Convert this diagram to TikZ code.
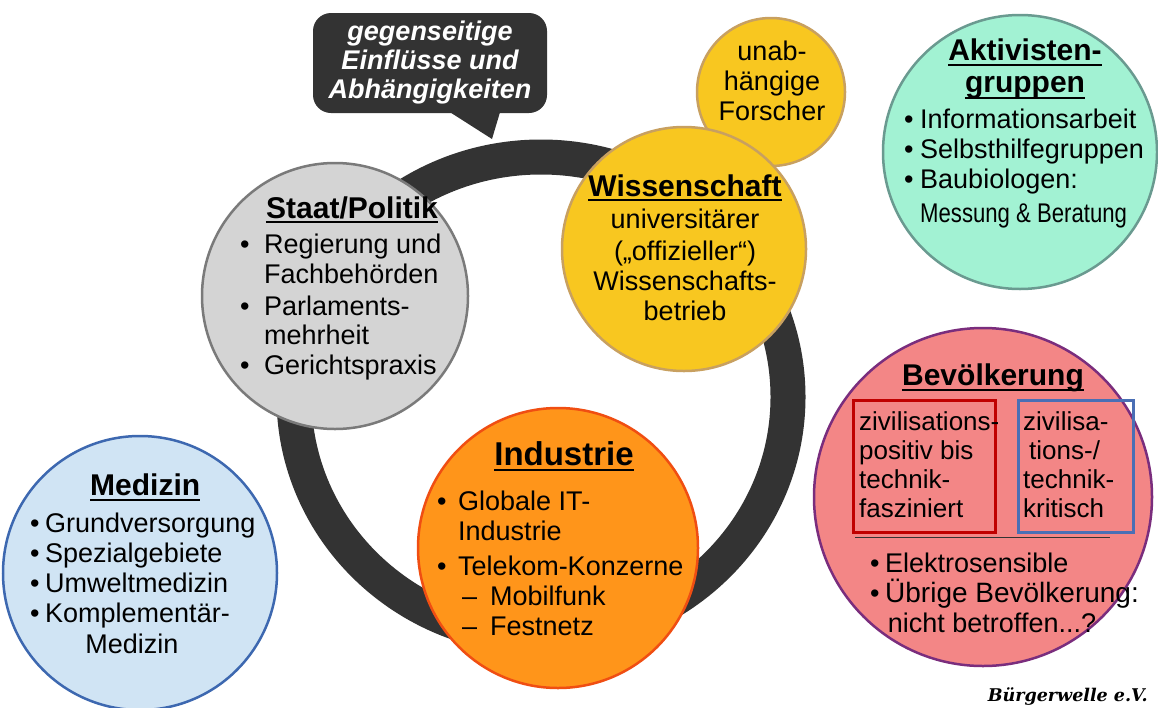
\documentclass[tikz,border=0pt]{standalone}
\usepackage{fontspec}
\setmainfont{Liberation Sans}
\newfontfamily\logofont{DejaVu Serif}
\usepackage{graphicx}
\definecolor{ringgray}{HTML}{333333}
\definecolor{staatfill}{HTML}{D4D4D4}
\definecolor{staatdraw}{HTML}{7A7A7A}
\definecolor{yellowfill}{HTML}{F8C720}
\definecolor{yellowdraw}{HTML}{C8A060}
\definecolor{mintfill}{HTML}{A2F2D3}
\definecolor{mintdraw}{HTML}{6A9A90}
\definecolor{coralfill}{HTML}{F38686}
\definecolor{coraldraw}{HTML}{7A2D7D}
\definecolor{skyfill}{HTML}{D0E4F4}
\definecolor{skydraw}{HTML}{3D68B0}
\definecolor{orangefill}{HTML}{FF951A}
\definecolor{orangedraw}{HTML}{F04E12}
\definecolor{boxred}{HTML}{C00000}
\definecolor{boxblue}{HTML}{4A6FB5}
\begin{document}
\begin{tikzpicture}[x=1pt,y=-1pt,
  blob/.style={circle,inner sep=0,line width=2.5pt},
  body/.style={inner sep=0,anchor=base west,font=\fontsize{27}{30}\selectfont},
  bodyc/.style={body,anchor=base},
  narrow/.style={inner sep=0,anchor=base west,font=\fontsize{26}{30}\selectfont},
  head/.style={inner sep=0,anchor=base,font=\fontsize{30}{34}\selectfont\bfseries},
  uline/.style={line width=2pt,line cap=butt},
]
\useasboundingbox (0,0) rectangle (1158,707);
\fill[white] (0,0) rectangle (1158,707);

% the dark ring linking the actors
\draw[ringgray,line width=35pt] (541,397) ellipse [x radius=247pt, y radius=240pt];

% speech bubble
\node[fill=ringgray,rounded corners=18pt,minimum width=234pt,minimum height=100pt,
      inner sep=0,text=white,align=center,
      font=\fontsize{27}{29}\selectfont\bfseries\itshape] (bubble) at (430,63)
  {gegenseitige\\Einflüsse und\\Abhängigkeiten};
\fill[ringgray] ([xshift=20pt,yshift=1pt]bubble.south) -- (492,139) -- ([xshift=70pt,yshift=1pt]bubble.south) -- cycle;

% circles
\node[blob,fill=staatfill,draw=staatdraw,minimum size=266pt] (staat) at (335,296) {};
\node[blob,fill=orangefill,draw=orangedraw,minimum size=280pt] (industrie) at (558,548) {};
\node[blob,fill=yellowfill,draw=yellowdraw,minimum size=148pt] (forscher) at (771,92) {};
\node[blob,fill=yellowfill,draw=yellowdraw,minimum size=244pt] (wissen) at (684,249) {};
\node[blob,fill=skyfill,draw=skydraw,minimum size=274pt] (medizin) at (140,573) {};
\node[blob,fill=mintfill,draw=mintdraw,minimum size=274pt] (aktiv) at (1020,152) {};
\node[blob,fill=coralfill,draw=coraldraw,minimum size=338pt] (bevoelk) at (983,497) {};

% Staat/Politik
\node[head] (stT) at (352,218) {Staat/Politik};
\draw[uline] ([yshift=-4pt]stT.base west) -- ([yshift=-4pt]stT.base east);
\node[body] (stb1) at (240,253) {•};
\node[body] (st1) at (264,253) {Regierung und};
\node[body] (st2) at (264,283) {Fachbehörden};
\node[body] (stb2) at (240,315) {•};
\node[body] (st3) at (264,315) {Parlaments-};
\node[body] (st4) at (264,344) {mehrheit};
\node[body] (stb3) at (240,374) {•};
\node[body] (st5) at (264,374) {Gerichtspraxis};

% Wissenschaft
\node[head] (wiT) at (685,196) {Wissenschaft};
\draw[uline] ([yshift=-4pt]wiT.base west) -- ([yshift=-4pt]wiT.base east);
\node[bodyc] (wi1) at (685,228) {universitärer};
\node[bodyc] (wi2) at (685,260) {(„offizieller“)};
\node[bodyc] (wi3) at (685,290) {Wissenschafts-};
\node[bodyc] (wi4) at (685,320) {betrieb};

% unabhängige Forscher
\node[bodyc] (fo1) at (772,60) {unab-};
\node[bodyc] (fo2) at (772,90) {hängige};
\node[bodyc] (fo3) at (772,120) {Forscher};

% Aktivistengruppen
\node[head] (akT1) at (1025,60) {Aktivisten-};
\draw[uline] ([yshift=-5pt]akT1.base west) -- ([yshift=-5pt]akT1.base east);
\node[head] (akT2) at (1025,92) {gruppen};
\draw[uline] ([yshift=-6pt]akT2.base west) -- ([yshift=-6pt]akT2.base east);
\node[body] (akb1) at (904,128) {•};
\node[body] (ak1) at (920,128) {Informationsarbeit};
\node[body] (akb2) at (904,158) {•};
\node[body] (ak2) at (920,158) {Selbsthilfegruppen};
\node[body] (akb3) at (904,188) {•};
\node[body] (ak3) at (920,188) {Baubiologen:};
\node[body] (ak4) at (920,222) {\scalebox{0.82}[1]{Messung \& Beratung}};

% Bevölkerung
\node[head] (beT) at (993,385) {Bevölkerung};
\draw[uline] ([yshift=-5pt]beT.base west) -- ([yshift=-5pt]beT.base east);
\node[draw=boxred,line width=3pt,minimum width=142pt,minimum height=132pt,inner sep=0] (posbox) at (924,466) {};
\node[draw=boxblue,line width=3pt,minimum width=115pt,minimum height=132pt,inner sep=0] (kritbox) at (1075.5,466) {};
\node[narrow] (po1) at (859,430) {zivilisations-};
\node[narrow] (po2) at (859,459) {positiv bis};
\node[narrow] (po3) at (859,488) {technik-};
\node[narrow] (po4) at (859,517) {fasziniert};
\node[narrow] (kr1) at (1023,430) {zivilisa-};
\node[narrow] (kr2) at (1029,459) {tions-/};
\node[narrow] (kr3) at (1023,488) {technik-};
\node[narrow] (kr4) at (1023,517) {kritisch};
\coordinate (sepL) at (855,537);
\coordinate (sepR) at (1110,537);
\draw[ringgray,line width=0.8pt] (sepL) -- (sepR);
\node[body] (beb1) at (870,572) {•};
\node[body] (be1) at (885,572) {Elektrosensible};
\node[body] (beb2) at (870,602) {•};
\node[body,font=\fontsize{28}{30}\selectfont] (be2) at (885,602) {Übrige Bevölkerung:};
\node[bodyc] (be3) at (992,632) {nicht betroffen...?};

% Medizin
\node[head,anchor=base west] (meT) at (90,495) {Medizin\ };
\draw[uline] ([yshift=-5pt]meT.base west) -- ([yshift=-5pt]meT.base east);
\node[body] (meb1) at (30,532) {•};
\node[body] (me1) at (45,532) {Grundversorgung};
\node[body] (meb2) at (30,562) {•};
\node[body] (me2) at (45,562) {Spezialgebiete};
\node[body] (meb3) at (30,592) {•};
\node[body] (me3) at (45,592) {Umweltmedizin};
\node[body] (meb4) at (30,622) {•};
\node[body] (me4) at (45,622) {Komplementär-};
\node[bodyc] (me5) at (132,653) {Medizin};

% Industrie
\node[head,font=\fontsize{33}{36}\selectfont\bfseries] (inT) at (564,465) {Industrie};
\draw[uline] ([yshift=-5pt]inT.base west) -- ([yshift=-5pt]inT.base east);
\node[body] (inb1) at (437,510) {•};
\node[body] (in1) at (458,510) {Globale IT-};
\node[body] (in2) at (458,540) {Industrie};
\node[body] (inb2) at (437,575) {•};
\node[body] (in3) at (458,575) {Telekom-Konzerne};
\node[body] (ind1) at (462,605) {–};
\node[body] (in4) at (490,605) {Mobilfunk};
\node[body] (ind2) at (462,635) {–};
\node[body] (in5) at (490,635) {Festnetz};

% association logo
\node[inner sep=0,anchor=base east] (logo) at (1148,701)
  {\resizebox{160pt}{!}{\logofont\bfseries\itshape Bürgerwelle e.V.}};
\end{tikzpicture}
\end{document}
